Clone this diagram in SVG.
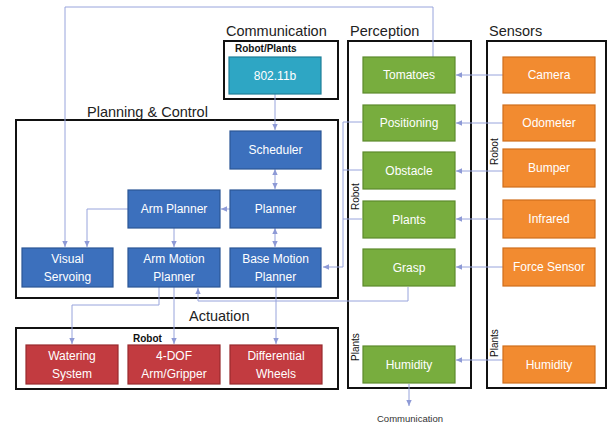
<svg xmlns="http://www.w3.org/2000/svg" width="610" height="428" viewBox="0 0 610 428">
<style>
.frame{fill:none;stroke:#111;stroke-width:2}
.head{font-family:"Liberation Sans",Arial,sans-serif;font-size:14.5px;fill:#222}
.small{font-family:"Liberation Sans",Arial,sans-serif;font-size:10px;font-weight:bold;fill:#111}
.rot{font-family:"Liberation Sans",Arial,sans-serif;font-size:10px;fill:#111}
.lbl{font-family:"Liberation Sans",Arial,sans-serif;font-size:12px;fill:#fff;text-anchor:middle}
.blue{fill:#3c70bd;stroke:#2a5595;stroke-width:1.2}
.teal{fill:#2ea6c4;stroke:#1f7f98;stroke-width:1.2}
.green{fill:#78ad3e;stroke:#5c8a2c;stroke-width:1.2}
.orange{fill:#f28b30;stroke:#cf6e1c;stroke-width:1.2}
.red{fill:#c23b40;stroke:#982a2e;stroke-width:1.2}
.conn{fill:none;stroke:#98a4dc;stroke-width:1}
</style>
<defs>
<marker id="ah" viewBox="0 0 10 10" refX="9" refY="5" markerWidth="7" markerHeight="7" orient="auto-start-reverse">
<path d="M0,1 L9,5 L0,9 Z" fill="#8e9ad6"/>
</marker>
</defs>
<rect width="610" height="428" fill="#fff"/>

<!-- frames and headings -->
<g id="communication-frame">
<rect class="frame" x="224" y="41" width="114" height="58"/>
<text class="head" x="226" y="36">Communication</text>
<text class="small" x="235" y="52">Robot/Plants</text>
</g>
<g id="perception-frame">
<rect class="frame" x="348" y="41" width="123" height="347"/>
<text class="head" x="350" y="36">Perception</text>
<text class="rot" transform="translate(359,210) rotate(-90)">Robot</text>
<text class="rot" transform="translate(359,361) rotate(-90)">Plants</text>
</g>
<g id="sensors-frame">
<rect class="frame" x="487" y="41" width="119" height="347"/>
<text class="head" x="489" y="36">Sensors</text>
<text class="rot" transform="translate(498,165) rotate(-90)">Robot</text>
<text class="rot" transform="translate(498,357) rotate(-90)">Plants</text>
</g>
<g id="planning-frame">
<rect class="frame" x="16" y="120" width="322" height="178"/>
<text class="head" x="87" y="117">Planning &amp; Control</text>
</g>
<g id="actuation-frame">
<rect class="frame" x="16" y="328" width="322" height="61"/>
<text class="head" x="189" y="321">Actuation</text>
<text class="small" x="133" y="342">Robot</text>
</g>

<!-- connectors -->
<g id="connectors">
<path class="conn" d="M433,57 V7 H65 V247" marker-end="url(#ah)"/>
<path class="conn" d="M275,94 V130" marker-end="url(#ah)"/>
<path class="conn" d="M275,169 V189" marker-start="url(#ah)" marker-end="url(#ah)"/>
<path class="conn" d="M275,228 V247" marker-start="url(#ah)" marker-end="url(#ah)"/>
<path class="conn" d="M230,209 H221" marker-end="url(#ah)"/>
<path class="conn" d="M174,228 V247" marker-end="url(#ah)"/>
<path class="conn" d="M128,209 H87 V247" marker-end="url(#ah)"/>
<path class="conn" d="M362,122 H343 V267 H323" marker-end="url(#ah)"/>
<path class="conn" d="M362,170 H343"/>
<path class="conn" d="M362,219 H343"/>
<path class="conn" d="M408,287 V301 H198 V288" marker-end="url(#ah)"/>
<path class="conn" d="M159,287 V305 H72 V344" marker-end="url(#ah)"/>
<path class="conn" d="M174,287 V344" marker-end="url(#ah)"/>
<path class="conn" d="M276,287 V344" marker-end="url(#ah)"/>
<path class="conn" d="M503,75 H456" marker-end="url(#ah)"/>
<path class="conn" d="M503,123 H456" marker-end="url(#ah)"/>
<path class="conn" d="M503,171 H456" marker-end="url(#ah)"/>
<path class="conn" d="M503,219 H456" marker-end="url(#ah)"/>
<path class="conn" d="M503,267 H456" marker-end="url(#ah)"/>
<path class="conn" d="M503,360 H456" marker-end="url(#ah)"/>
<path class="conn" d="M409,384 V406" marker-end="url(#ah)"/>
<text x="410" y="422" font-family="Liberation Sans, Arial, sans-serif" font-size="9.5" fill="#333" text-anchor="middle">Communication</text>
</g>

<!-- nodes -->
<g id="n-80211b"><rect class="teal" x="229" y="57" width="92" height="37"/><text class="lbl" x="275" y="80">802.11b</text></g>

<g id="n-scheduler"><rect class="blue" x="230" y="131" width="91" height="38"/><text class="lbl" x="275.5" y="154">Scheduler</text></g>
<g id="n-planner"><rect class="blue" x="230" y="190" width="91" height="38"/><text class="lbl" x="275.5" y="213">Planner</text></g>
<g id="n-armplanner"><rect class="blue" x="128" y="190" width="92" height="38"/><text class="lbl" x="174" y="213">Arm Planner</text></g>
<g id="n-visual"><rect class="blue" x="22" y="248" width="91" height="39"/><text class="lbl" x="67.5" y="263">Visual</text><text class="lbl" x="67.5" y="281">Servoing</text></g>
<g id="n-armmotion"><rect class="blue" x="128" y="248" width="92" height="39"/><text class="lbl" x="174" y="263">Arm Motion</text><text class="lbl" x="174" y="281">Planner</text></g>
<g id="n-basemotion"><rect class="blue" x="230" y="248" width="91" height="39"/><text class="lbl" x="275.5" y="263">Base Motion</text><text class="lbl" x="275.5" y="281">Planner</text></g>

<g id="n-watering"><rect class="red" x="26" y="345" width="92" height="39"/><text class="lbl" x="72" y="360">Watering</text><text class="lbl" x="72" y="378">System</text></g>
<g id="n-arm"><rect class="red" x="128" y="345" width="92" height="39"/><text class="lbl" x="174" y="360">4-DOF</text><text class="lbl" x="174" y="378">Arm/Gripper</text></g>
<g id="n-wheels"><rect class="red" x="230" y="345" width="92" height="39"/><text class="lbl" x="276" y="360">Differential</text><text class="lbl" x="276" y="378">Wheels</text></g>

<g id="n-tomatoes"><rect class="green" x="363" y="57" width="92" height="36"/><text class="lbl" x="409" y="79">Tomatoes</text></g>
<g id="n-positioning"><rect class="green" x="363" y="105" width="92" height="36"/><text class="lbl" x="409" y="127">Positioning</text></g>
<g id="n-obstacle"><rect class="green" x="363" y="152" width="92" height="37"/><text class="lbl" x="409" y="175">Obstacle</text></g>
<g id="n-plants"><rect class="green" x="363" y="201" width="92" height="37"/><text class="lbl" x="409" y="224">Plants</text></g>
<g id="n-grasp"><rect class="green" x="363" y="249" width="92" height="37"/><text class="lbl" x="409" y="272">Grasp</text></g>
<g id="n-humidity-p"><rect class="green" x="363" y="346" width="92" height="37"/><text class="lbl" x="409" y="369">Humidity</text></g>

<g id="n-camera"><rect class="orange" x="503" y="57" width="92" height="36"/><text class="lbl" x="549" y="79">Camera</text></g>
<g id="n-odometer"><rect class="orange" x="503" y="105" width="92" height="36"/><text class="lbl" x="549" y="127">Odometer</text></g>
<g id="n-bumper"><rect class="orange" x="503" y="149" width="92" height="38"/><text class="lbl" x="549" y="172">Bumper</text></g>
<g id="n-infrared"><rect class="orange" x="503" y="200" width="92" height="38"/><text class="lbl" x="549" y="223">Infrared</text></g>
<g id="n-force"><rect class="orange" x="503" y="248" width="92" height="38"/><text class="lbl" x="549" y="271">Force Sensor</text></g>
<g id="n-humidity-s"><rect class="orange" x="503" y="346" width="92" height="37"/><text class="lbl" x="549" y="369">Humidity</text></g>
</svg>
